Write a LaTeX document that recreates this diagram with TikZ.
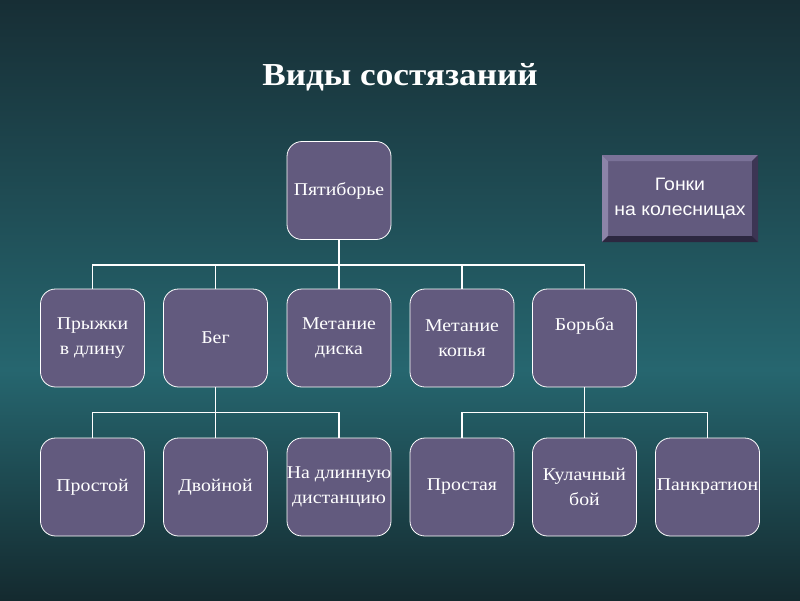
\documentclass[tikz,border=0pt]{standalone}
\usepackage{fontspec}
\setmainfont[FakeStretch=1.1]{Liberation Serif}
\newfontfamily\arialfont[FakeStretch=1.08]{Liberation Sans}
\definecolor{bgtop}{HTML}{172E35}
\definecolor{bgmid}{HTML}{26666F}
\definecolor{bgbot}{HTML}{142A2F}
\definecolor{boxfill}{HTML}{625A7E}
\definecolor{bevlight}{HTML}{8C84A8}
\definecolor{bevtop}{HTML}{7A7298}
\definecolor{bevdark}{HTML}{3C3554}
\definecolor{bevbot}{HTML}{2C2740}
\begin{document}
\begin{tikzpicture}[x=1pt,y=-1pt,
  box/.style={draw=white,line width=0.8pt,fill=boxfill,rounded corners=15pt,
    minimum width=104pt,minimum height=98pt,text=white,align=center,inner sep=1pt,
    font=\fontsize{18}{24.5}\selectfont},
  conn/.style={draw=white,line width=1.8pt}]
\useasboundingbox (0,0) rectangle (800,600);
\shade[top color=bgtop,bottom color=bgmid] (0,0) rectangle (800,370);
\shade[top color=bgmid,bottom color=bgbot] (0,370) rectangle (800,600);
\node[text=white,font=\bfseries\fontsize{32}{38}\selectfont] (title) at (400,77) {Виды состязаний};
% level 1
\node[box] (pent) at (339,190.5) {Пятиборье};
% level 2
\node[box] (jump) at (92.5,338) {Прыжки\\в длину};
\node[box] (run) at (215.5,338) {Бег};
\node[box] (disc) at (339,338) {Метание\\диска};
\node[box] (spear) at (462,338) {Метание\\копья};
\node[box,label={[text=white,font=\fontsize{18}{24}\selectfont,yshift=12pt]center:Борьба}] (wrest) at (584.5,338) {};
% level 3
\node[box] (simple) at (92.5,487) {Простой};
\node[box] (double) at (215.5,487) {Двойной};
\node[box] (long) at (339,487) {\makebox[0pt]{На длинную}\\\makebox[0pt]{дистанцию}};
\node[box] (simplew) at (462,487) {Простая};
\node[box] (fist) at (584.5,487) {Кулачный\\бой};
\node[box] (pank) at (707.5,487) {\makebox[0pt]{Панкратион}};
% connectors
\foreach \c in {jump,run,disc,spear,wrest}
  \draw[conn] (pent.south) -- ++(0,25) -| (\c.north);
\foreach \c in {simple,double,long}
  \draw[conn] (run.south) -- ++(0,25) -| (\c.north);
\foreach \c in {simplew,fist,pank}
  \draw[conn] (wrest.south) -- ++(0,25) -| (\c.north);
% bevel box
\fill[boxfill] (602,155) rectangle (758,242);
\fill[bevlight] (602,155) -- (608,161) -- (608,236) -- (602,242) -- cycle;
\fill[bevtop] (602,155) -- (758,155) -- (752,161) -- (608,161) -- cycle;
\fill[bevdark] (758,155) -- (758,242) -- (752,236) -- (752,161) -- cycle;
\fill[bevbot] (602,242) -- (758,242) -- (752,236) -- (608,236) -- cycle;
\node[text=white,align=center,font=\arialfont\fontsize{18}{25}\selectfont] (chariot) at (680,199) {Гонки\\на колесницах};
\end{tikzpicture}
\end{document}
